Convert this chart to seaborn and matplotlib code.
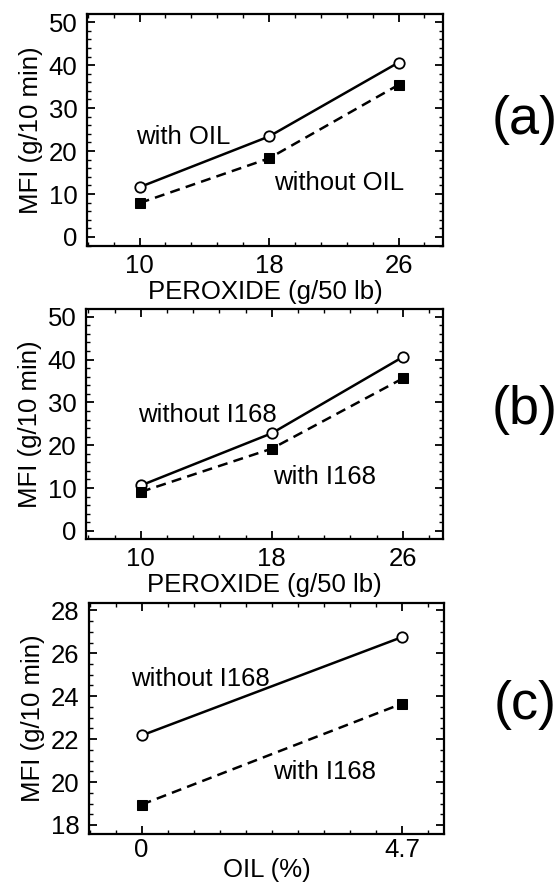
import numpy as np
import pandas as pd
import matplotlib
matplotlib.use("Agg")
import matplotlib.pyplot as plt
from matplotlib.ticker import MultipleLocator, FixedLocator
import seaborn as sns

# ---- data ----
peroxide = [10, 18, 26]
a_with_oil = [11.6, 23.4, 40.6]
a_without_oil = [7.9, 18.3, 35.4]
b_without_i168 = [10.6, 22.8, 40.6]
b_with_i168 = [9.1, 19.2, 35.6]
oil = [0, 4.7]
c_without_i168 = [22.17, 26.75]
c_with_i168 = [18.95, 23.65]

sns.set_theme(style="white")
plt.rcParams['font.family'] = ['Liberation Sans', 'DejaVu Sans']
plt.rcParams['axes.edgecolor'] = 'black'
plt.rcParams['axes.linewidth'] = 1.6
plt.rcParams['text.color'] = 'black'
plt.rcParams['axes.labelcolor'] = 'black'
plt.rcParams['xtick.color'] = 'black'
plt.rcParams['ytick.color'] = 'black'

fig = plt.figure(figsize=(5.6, 8.82), dpi=100)
W, H = 560.0, 882.0

def make_ax(l, r, t, b):
    return fig.add_axes([l / W, 1 - b / H, (r - l) / W, (b - t) / H])

FS = 18.5

def style_ax(ax, xpad=7):
    ax.tick_params(axis='both', which='both', direction='in', top=True, right=True,
                   bottom=True, left=True, colors='black', labelcolor='black',
                   labelsize=FS)
    ax.tick_params(axis='both', which='major', length=6, width=1.3, pad=7)
    ax.tick_params(axis='x', which='major', pad=xpad)
    ax.tick_params(axis='both', which='minor', length=3, width=1.0)
    for s in ax.spines.values():
        s.set_color('black')
        s.set_linewidth(1.6)

def draw(ax, x, solid, dashed, xlab, xlabelpad=1):
    df1 = pd.DataFrame({'x': x, 'y': solid})
    df2 = pd.DataFrame({'x': x, 'y': dashed})
    sns.lineplot(data=df1, x='x', y='y', ax=ax, color='black', lw=1.8,
                 marker='o', markersize=7.5, markerfacecolor='white',
                 markeredgecolor='black', markeredgewidth=1.3)
    sns.lineplot(data=df2, x='x', y='y', ax=ax, color='black', lw=1.8,
                 linestyle=(0, (4.0, 2.5)), marker='s', markersize=6.5,
                 markerfacecolor='black', markeredgecolor='black')
    ax.set_xlabel(xlab, fontsize=FS, labelpad=xlabelpad, color='black')
    ax.set_ylabel('MFI (g/10 min)', fontsize=FS, labelpad=4, color='black')

# panel (a)
ax1 = make_ax(87, 443, 14, 246)
draw(ax1, peroxide, a_with_oil, a_without_oil, 'PEROXIDE (g/50 lb)')
ax1.set_xlim(6.75, 28.75)
ax1.set_ylim(-2.1, 51.9)
ax1.xaxis.set_major_locator(FixedLocator(peroxide))
ax1.xaxis.set_minor_locator(MultipleLocator(1.6, offset=0.4))
ax1.yaxis.set_major_locator(MultipleLocator(10))
ax1.yaxis.set_minor_locator(MultipleLocator(2))
ax1.text(9.75, 23.3, 'with OIL', fontsize=FS, va='center', ha='left')
ax1.text(18.3, 12.6, 'without OIL', fontsize=FS, va='center', ha='left')
style_ax(ax1, xpad=6)

# panel (b)
ax2 = make_ax(86, 443, 309, 539)
draw(ax2, peroxide, b_without_i168, b_with_i168, 'PEROXIDE (g/50 lb)')
ax2.set_xlim(6.65, 28.45)
ax2.set_ylim(-1.9, 51.8)
ax2.xaxis.set_major_locator(FixedLocator(peroxide))
ax2.xaxis.set_minor_locator(MultipleLocator(1.6, offset=0.4))
ax2.yaxis.set_major_locator(MultipleLocator(10))
ax2.yaxis.set_minor_locator(MultipleLocator(2))
ax2.text(9.8, 27.0, 'without I168', fontsize=FS, va='center', ha='left')
ax2.text(18.06, 12.6, 'with I168', fontsize=FS, va='center', ha='left')
style_ax(ax2, xpad=6)

# panel (c)
ax3 = make_ax(89, 444, 603, 834)
draw(ax3, oil, c_without_i168, c_with_i168, 'OIL (%)', xlabelpad=-3)
ax3.set_xlim(-0.95, 5.46)
ax3.set_ylim(17.58, 28.34)
ax3.xaxis.set_major_locator(FixedLocator(oil))
ax3.xaxis.set_minor_locator(MultipleLocator(0.47))
ax3.yaxis.set_major_locator(MultipleLocator(2))
ax3.yaxis.set_minor_locator(MultipleLocator(0.5))
ax3.set_xticklabels(['0', '4.7'])
ax3.text(-0.2, 24.82, 'without I168', fontsize=FS, va='center', ha='left')
ax3.text(2.38, 20.48, 'with I168', fontsize=FS, va='center', ha='left')
style_ax(ax3, xpad=3)

for lab, yc in [('(a)', 120), ('(b)', 410), ('(c)', 705)]:
    fig.text(525 / W, 1 - yc / H, lab, fontsize=39, ha='center', va='center',
             color='black')

fig.savefig('out.png', dpi=100, facecolor='white')
